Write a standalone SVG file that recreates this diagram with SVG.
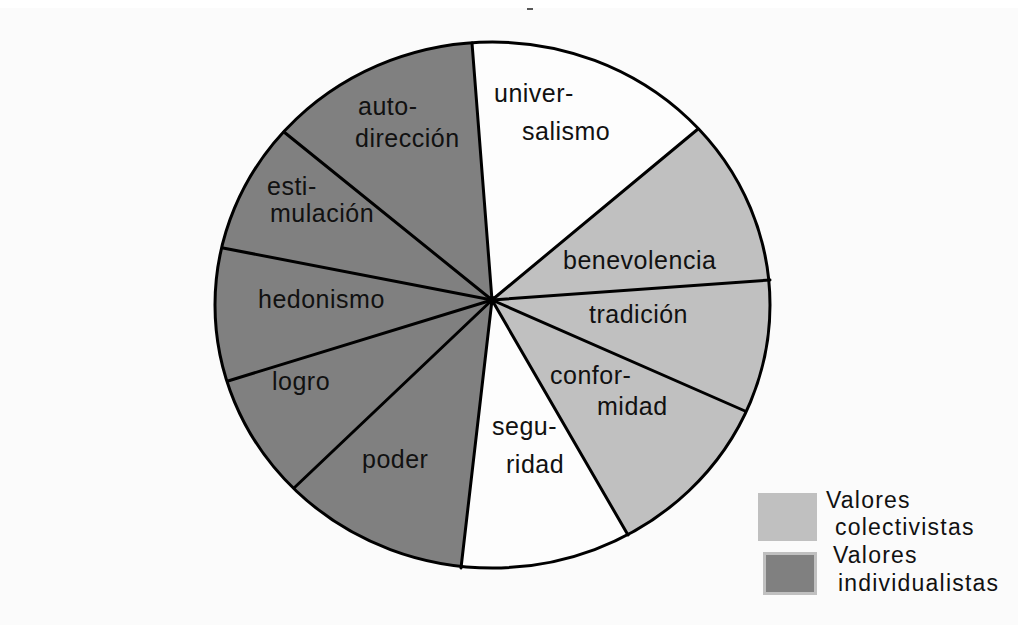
<svg xmlns="http://www.w3.org/2000/svg" width="1018" height="625" viewBox="0 0 1018 625">
<style>
.lbl{font-family:"Liberation Sans",Arial,sans-serif;font-size:25px;fill:#111;letter-spacing:0.5px}
.leg{font-family:"Liberation Sans",Arial,sans-serif;font-size:23px;fill:#111;letter-spacing:1.2px}
.dark{fill:#808080}
.light{fill:#c0c0c0}
.white{fill:#fdfdfd}
.spoke{stroke:#000;stroke-width:3;fill:none;stroke-linecap:round}
</style>
<defs>
<clipPath id="pie"><ellipse cx="492.5" cy="305" rx="277.5" ry="263"/></clipPath>
</defs>
<rect x="0" y="0" width="1018" height="625" fill="#ffffff"/>
<rect x="0" y="8" width="1018" height="617" fill="#fbfbfb"/>
<line x1="527" y1="9" x2="533" y2="9" stroke="#222" stroke-width="1.5"/>
<g clip-path="url(#pie)">
<ellipse cx="492.5" cy="305" rx="277.5" ry="263" class="white"/>
<g id="individualistas-sectors"><polygon class="dark" points="492,300 430,836 96,676 -36,462 -46,196 -124,-36 452,-214"/></g>
<g id="colectivistas-sectors"><polygon class="light" points="492,300 904,-42 1048,260 998,522 764,770"/></g>
</g>
<g id="connectors">
<line class="spoke" x1="492" y1="300" x2="472" y2="43"/>
<line class="spoke" x1="492" y1="300" x2="698" y2="129"/>
<line class="spoke" x1="492" y1="300" x2="770" y2="280"/>
<line class="spoke" x1="492" y1="300" x2="745" y2="411"/>
<line class="spoke" x1="492" y1="300" x2="628" y2="535"/>
<line class="spoke" x1="492" y1="300" x2="461" y2="568"/>
<line class="spoke" x1="492" y1="300" x2="294" y2="488"/>
<line class="spoke" x1="492" y1="300" x2="228" y2="381"/>
<line class="spoke" x1="492" y1="300" x2="223" y2="248"/>
<line class="spoke" x1="492" y1="300" x2="284" y2="132"/>
<circle cx="492" cy="300" r="4" fill="#000"/>
</g>
<ellipse cx="492.5" cy="305" rx="277.5" ry="263" fill="none" stroke="#000" stroke-width="3"/>
<g id="universalismo"><text class="lbl" x="494" y="102">univer-</text><text class="lbl" x="522" y="140">salismo</text></g>
<g id="benevolencia"><text class="lbl" x="563" y="269">benevolencia</text></g>
<g id="tradicion"><text class="lbl" x="589" y="323">tradición</text></g>
<g id="conformidad"><text class="lbl" x="550" y="384">confor-</text><text class="lbl" x="597" y="415">midad</text></g>
<g id="seguridad"><text class="lbl" x="492" y="435">segu-</text><text class="lbl" x="506" y="473">ridad</text></g>
<g id="poder"><text class="lbl" x="362" y="468">poder</text></g>
<g id="logro"><text class="lbl" x="272" y="390">logro</text></g>
<g id="hedonismo"><text class="lbl" x="258" y="308">hedonismo</text></g>
<g id="estimulacion"><text class="lbl" x="267" y="195">esti-</text><text class="lbl" x="270" y="222">mulación</text></g>
<g id="autodireccion"><text class="lbl" x="358" y="115">auto-</text><text class="lbl" x="355" y="147">dirección</text></g>
<g id="legend-colectivistas">
<rect x="758" y="493" width="59" height="48" fill="#c0c0c0"/>
<text class="leg" x="826" y="508">Valores</text>
<text class="leg" x="835" y="535">colectivistas</text>
</g>
<g id="legend-individualistas">
<rect x="764.5" y="553.5" width="51" height="40" fill="#808080" stroke="#c0c0c0" stroke-width="3"/>
<text class="leg" x="833" y="563">Valores</text>
<text class="leg" x="838" y="591">individualistas</text>
</g>
</svg>
